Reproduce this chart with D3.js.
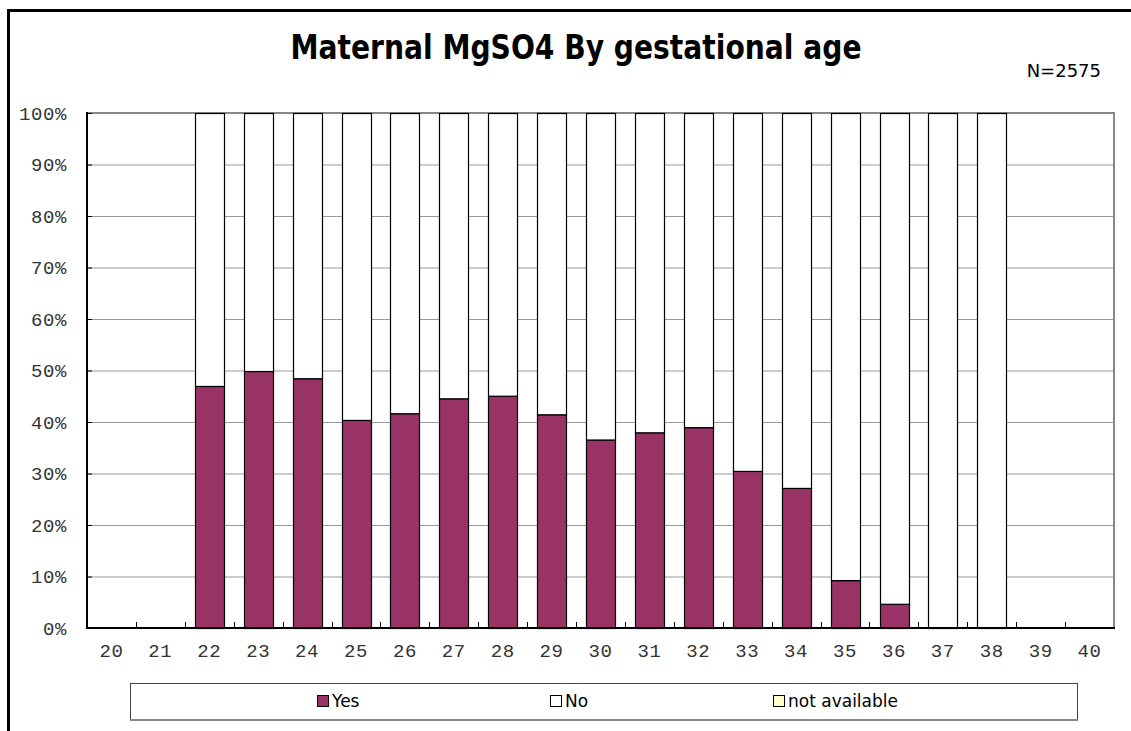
<!DOCTYPE html>
<html>
<head>
<meta charset="utf-8">
<script src="https://cdn.jsdelivr.net/npm/d3@7/dist/d3.min.js"></script>
<style>
  html, body { margin: 0; padding: 0; background: #fff; }
  svg { display: block; }
</style>
</head>
<body>
<svg id="chart" width="1131" height="731"></svg>
<script>
// Gestational age (weeks) shown on the x axis
const weeks = [20, 21, 22, 23, 24, 25, 26, 27, 28, 29, 30, 31, 32, 33, 34, 35, 36, 37, 38, 39, 40];
// Share of mothers given MgSO4, percent (null = no infants at that week)
const yesPct = [null, null, 47.0, 49.9, 48.5, 40.4, 41.7, 44.6, 45.1, 41.5, 36.6, 38.0, 39.0, 30.5, 27.2, 9.3, 4.7, 0, 0, null, null];
const noPct  = [null, null, 53.0, 50.1, 51.5, 59.6, 58.3, 55.4, 54.9, 58.5, 63.4, 62.0, 61.0, 69.5, 72.8, 90.7, 95.3, 100, 100, null, null];
const naPct  = [null, null, 0, 0, 0, 0, 0, 0, 0, 0, 0, 0, 0, 0, 0, 0, 0, 0, 0, null, null];
const seriesNames = ["Yes", "No", "not available"];
const seriesColors = ["#993366", "#ffffff", "#ffffcc"];
const yTicks = [0, 10, 20, 30, 40, 50, 60, 70, 80, 90, 100];
const titleText = "Maternal MgSO4 By gestational age";
const countText = "N=2575";

const svg = d3.select("#chart");
const plot = { left: 87, right: 1114, top: 113, bottom: 628 };

// outer frame (only the top and left edges fall inside the page)
svg.append("line").attr("x1", 8.5).attr("x2", 1131).attr("y1", 10.5).attr("y2", 10.5)
  .attr("stroke", "#000").attr("stroke-width", 3);
svg.append("line").attr("x1", 8.5).attr("x2", 8.5).attr("y1", 9).attr("y2", 731)
  .attr("stroke", "#000").attr("stroke-width", 3);

// title and sample size
svg.append("text").attr("x", 576).attr("y", 59).attr("text-anchor", "middle")
  .attr("font-family", "DejaVu Sans, Verdana, sans-serif").attr("font-weight", "bold")
  .attr("font-size", 33).attr("textLength", 571).attr("lengthAdjust", "spacingAndGlyphs")
  .attr("fill", "#000").text(titleText);
svg.append("text").attr("x", 1101).attr("y", 77).attr("text-anchor", "end")
  .attr("font-family", "DejaVu Sans, Verdana, sans-serif").attr("font-size", 18)
  .attr("fill", "#000").text(countText);

const x = d3.scaleBand().domain(weeks).range([plot.left, plot.right])
  .paddingInner(0.41).paddingOuter(0.205);
const y = d3.scaleLinear().domain([0, 100]).range([plot.bottom, plot.top]);

// horizontal gridlines
svg.append("g").selectAll("line").data(yTicks.filter(t => t > 0 && t < 100)).join("line")
  .attr("x1", plot.left).attr("x2", plot.right)
  .attr("y1", d => y(d) + 0.5).attr("y2", d => y(d) + 0.5)
  .attr("stroke", "#9a9a9a").attr("stroke-width", 1);

// plot frame: grey top and right edges
svg.append("path")
  .attr("d", `M${plot.left},${plot.top}H${plot.right}V${plot.bottom}`)
  .attr("fill", "none").attr("stroke", "#888").attr("stroke-width", 2);

// stacked bars
const rows = weeks.map((w, i) => ({ week: w, Yes: yesPct[i], No: noPct[i], "not available": naPct[i] }))
  .filter(r => r.Yes !== null);
const stack = d3.stack().keys(seriesNames)(rows);
const layers = svg.append("g").selectAll("g").data(stack).join("g")
  .attr("fill", (d, i) => seriesColors[i]);
layers.selectAll("rect").data(d => d.filter(s => s[1] - s[0] > 0)).join("rect")
  .attr("x", d => Math.round(x(d.data.week)) + 0.5)
  .attr("width", Math.round(x.bandwidth()))
  .attr("y", d => y(d[1]) + 0.5)
  .attr("height", d => y(d[0]) - y(d[1]))
  .attr("stroke", "#000").attr("stroke-width", 1.2);

// y axis: labels, inward ticks, axis line
const yAxis = d3.axisLeft(y).tickValues(yTicks).tickSize(-5).tickPadding(20)
  .tickFormat(d => d + "%");
const gy = svg.append("g").attr("transform", `translate(${plot.left},0)`).call(yAxis);
gy.select(".domain").remove();
gy.selectAll(".tick line").attr("stroke", "#000").attr("stroke-width", 1);
gy.selectAll(".tick text").attr("font-family", "Liberation Mono, monospace")
  .attr("font-size", 19).attr("letter-spacing", 0.6).attr("fill", "#333");

// x axis: labels centred in each week, ticks at week boundaries
const gx = svg.append("g").attr("transform", `translate(0,${plot.bottom})`)
  .call(d3.axisBottom(x).tickSize(0).tickPadding(16));
gx.select(".domain").remove();
gx.selectAll(".tick text").attr("font-family", "Liberation Mono, monospace")
  .attr("font-size", 19).attr("letter-spacing", 0.6).attr("fill", "#333");
const step = x.step();
svg.append("g").selectAll("line").data(d3.range(1, weeks.length)).join("line")
  .attr("x1", i => Math.round(plot.left + i * step) + 0.5)
  .attr("x2", i => Math.round(plot.left + i * step) + 0.5)
  .attr("y1", plot.bottom).attr("y2", plot.bottom - 6)
  .attr("stroke", "#000");

svg.append("line").attr("x1", plot.left).attr("x2", plot.left)
  .attr("y1", plot.top - 1).attr("y2", plot.bottom + 1).attr("stroke", "#000").attr("stroke-width", 2);
svg.append("line").attr("x1", plot.left - 1).attr("x2", plot.right + 1)
  .attr("y1", plot.bottom).attr("y2", plot.bottom).attr("stroke", "#000").attr("stroke-width", 2);

// legend
const legend = { left: 130, right: 1077, top: 683, bottom: 719 };
svg.append("rect").attr("x", legend.left + 0.5).attr("y", legend.top + 0.5)
  .attr("width", legend.right - legend.left).attr("height", legend.bottom - legend.top)
  .attr("fill", "#fff").attr("stroke", "#444").attr("stroke-width", 1);
svg.append("line").attr("x1", legend.left).attr("x2", legend.right + 1)
  .attr("y1", legend.bottom + 1).attr("y2", legend.bottom + 1).attr("stroke", "#888").attr("stroke-width", 2);
const itemX = [317, 550, 773];
const items = svg.append("g").selectAll("g").data(seriesNames).join("g")
  .attr("transform", (d, i) => `translate(${itemX[i]},0)`);
items.append("rect").attr("x", 0.5).attr("y", 695.5).attr("width", 11).attr("height", 11)
  .attr("fill", (d, i) => seriesColors[i]).attr("stroke", "#000").attr("stroke-width", 1);
items.append("text").attr("x", 15).attr("y", 707)
  .attr("font-family", "DejaVu Sans, Verdana, sans-serif").attr("font-size", 17)
  .attr("fill", "#000").text(d => d);
</script>
</body>
</html>
